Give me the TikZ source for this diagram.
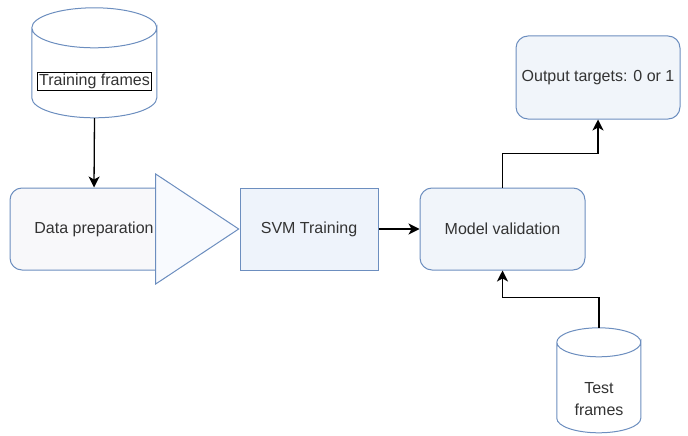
\documentclass[tikz,border=0pt]{standalone}
\usepackage{fontspec}
\setmainfont{Liberation Sans}
\usetikzlibrary{shapes.geometric,arrows.meta}
\definecolor{boxline}{HTML}{6C8EBF}
\definecolor{txtgray}{HTML}{333333}
\definecolor{prepfill}{HTML}{F8F8FA}
\definecolor{trifill}{HTML}{F8FAFE}
\definecolor{svmfill}{HTML}{EEF3FB}
\definecolor{stepfill}{HTML}{F1F5FA}
\tikzset{
  stepbox/.style={draw=boxline, line width=1pt, text=txtgray, align=center, inner sep=0pt},
  roundbox/.style={stepbox, rounded corners=12pt},
  dbline/.style={draw=boxline, line width=1pt, fill=white},
  conn/.style={-{Stealth[length=11pt,width=11pt,inset=3pt]}, line width=1.3pt, black}
}
\begin{document}
\begin{tikzpicture}[x=1pt,y=-1pt,font=\fontsize{16}{22}\selectfont]
\useasboundingbox (0,0) rectangle (688,436);

% data sources
\node[minimum width=125pt, minimum height=110pt, inner sep=0pt] (trainfr) at (94.5,63) {};
\draw[dbline] (trainfr.north west) ++(0,20) -- ++(0,70)
  arc[start angle=180, end angle=0, x radius=62.5, y radius=20] -- ++(0,-70)
  arc[start angle=0, end angle=180, x radius=62.5, y radius=20]
  arc[start angle=180, end angle=360, x radius=62.5, y radius=20];
\node[draw=black, line width=0.8pt, text=txtgray, inner sep=1.5pt] (trainlbl) at (94.5,81) {Training frames};

\node[minimum width=84pt, minimum height=105pt, inner sep=0pt] (testfr) at (599,380.5) {};
\draw[dbline] (testfr.north west) ++(0,14.5) -- ++(0,76)
  arc[start angle=180, end angle=0, x radius=42, y radius=14.5] -- ++(0,-76)
  arc[start angle=0, end angle=180, x radius=42, y radius=14.5]
  arc[start angle=180, end angle=360, x radius=42, y radius=14.5];
\node[text=txtgray, align=center] (testlbl) at (599,399) {Test\\frames};

% processing steps
\node[roundbox, fill=prepfill, minimum width=168pt, minimum height=82pt] (prep) at (94,229) {Data preparation};
\node[draw=boxline, line width=1pt, fill=trifill, isosceles triangle, isosceles triangle stretches,
      minimum width=110pt, minimum height=83pt, inner sep=0pt, anchor=apex] (tri) at (240,229) {};
\node[stepbox, fill=svmfill, minimum width=138pt, minimum height=82pt] (svm) at (309,229) {SVM Training};
\node[roundbox, fill=stepfill, minimum width=165pt, minimum height=82pt] (valid) at (502.5,229) {Model validation};
\node[roundbox, fill=stepfill, minimum width=164pt, minimum height=83pt] (output) at (598,77.5) {Output targets: 0 or 1};

% connectors
\draw[conn] (trainfr.south) -- (prep.north);
\draw[conn] (svm) -- (valid);
\draw[conn] (valid.north) -- ++(0,-34) -| (output.south);
\draw[conn] (testfr.north) -- ++(0,-30) -| (valid.south);

\end{tikzpicture}
\end{document}
